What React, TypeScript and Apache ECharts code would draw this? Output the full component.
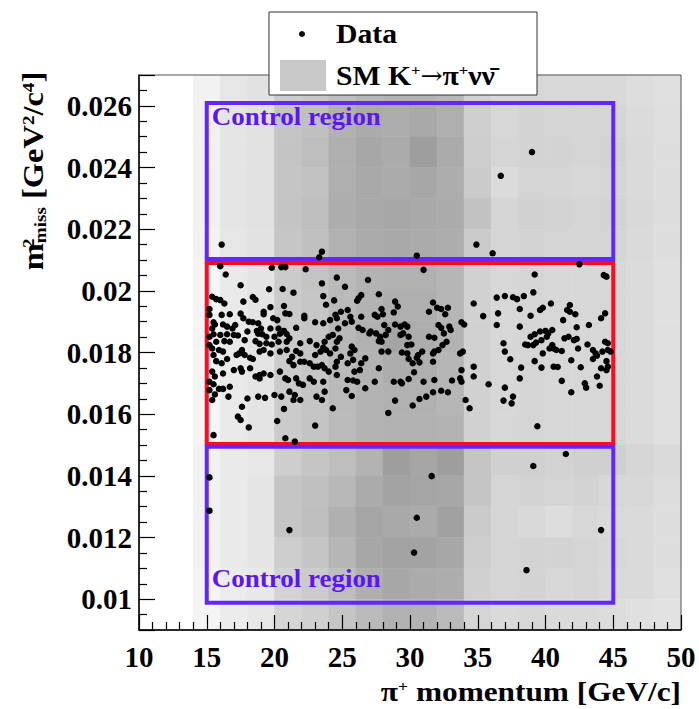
import React, { useEffect, useRef } from 'react';
import * as echarts from 'echarts';

// ---------- SM K+ -> pi+ nu nubar expectation (2D histogram, shade 0..100) ----------
const X_BIN_EDGES = [14, 16, 18, 20, 22, 24, 26, 28, 30, 32, 34, 36, 38, 40, 42, 44, 46, 48];
const X_BIN_WIDTH = 2;
// lower edges of rows, listed from top to bottom
const Y_BIN_EDGES = [0.026, 0.025, 0.024, 0.023, 0.022, 0.021, 0.02, 0.019, 0.018, 0.017, 0.016, 0.015, 0.014, 0.013, 0.012, 0.011, 0.01, 0.009];
const Y_BIN_HEIGHT = 0.001;
const SM_SHADE = [
  [12, 24, 28, 48, 52, 62, 70, 72, 72, 68, 42, 36, 38, 36, 36, 36, 32, 30],
  [13, 25, 29, 55, 60, 74, 80, 78, 82, 76, 46, 38, 42, 40, 40, 40, 34, 31],
  [13, 25, 29, 56, 62, 76, 84, 80, 92, 80, 48, 40, 42, 42, 40, 42, 35, 32],
  [13, 25, 29, 55, 58, 76, 82, 80, 84, 78, 50, 34, 40, 40, 38, 40, 35, 32],
  [13, 25, 29, 56, 62, 78, 82, 84, 82, 80, 58, 40, 44, 42, 40, 42, 36, 32],
  [12, 24, 28, 54, 60, 74, 80, 82, 80, 78, 50, 40, 42, 40, 40, 40, 35, 32],
  [10, 20, 26, 50, 56, 66, 72, 74, 74, 70, 44, 38, 40, 38, 38, 38, 34, 30],
  [10, 20, 26, 50, 54, 66, 72, 76, 76, 70, 44, 38, 40, 38, 38, 38, 34, 30],
  [10, 20, 26, 50, 54, 68, 74, 86, 78, 72, 44, 38, 40, 38, 38, 38, 34, 30],
  [10, 20, 26, 50, 54, 66, 72, 78, 76, 70, 44, 38, 40, 38, 38, 38, 34, 30],
  [10, 20, 26, 50, 56, 66, 72, 74, 74, 70, 44, 38, 40, 38, 38, 38, 34, 30],
  [10, 20, 26, 50, 56, 66, 72, 74, 74, 72, 44, 38, 40, 38, 38, 38, 34, 30],
  [12, 20, 23, 47, 55, 62, 72, 92, 85, 92, 55, 45, 45, 42, 45, 45, 40, 35],
  [12, 20, 25, 55, 60, 68, 80, 88, 86, 84, 55, 40, 42, 40, 42, 38, 38, 32],
  [12, 20, 25, 55, 62, 75, 86, 82, 80, 90, 50, 40, 36, 32, 38, 35, 35, 32],
  [12, 20, 25, 48, 55, 70, 84, 88, 88, 84, 48, 40, 42, 42, 40, 38, 35, 32],
  [10, 18, 22, 42, 50, 62, 76, 84, 80, 78, 45, 40, 42, 38, 40, 36, 35, 30],
  [10, 18, 22, 40, 45, 55, 66, 74, 72, 66, 40, 35, 38, 35, 35, 33, 30, 28],
];

// ---------- Regions (pi+ momentum range, m2miss range) ----------
const REGION_NAMES = ['Control region', 'Signal region', 'Control region'];
const REGION_P_MIN = [15, 15, 15];
const REGION_P_MAX = [45, 45, 45];
const REGION_M2_MIN = [0.02103, 0.01503, 0.00988];
const REGION_M2_MAX = [0.02609, 0.0209, 0.01494];

// ---------- Data points [p (GeV/c), m2miss (GeV^2/c^4)] ----------
const UPPER_CONTROL_POINTS = [
  [16.1, 0.0215], [23.5, 0.02127], [23.3, 0.02109], [30.5, 0.02114], [34.9, 0.0215], [36.1, 0.02122], [36.7, 0.02373], [39.0, 0.0245],
];
const LOWER_CONTROL_POINTS = [
  [15.2, 0.01395], [15.2, 0.01287], [21.1, 0.01224], [31.6, 0.01399], [30.5, 0.01264], [30.3, 0.01151], [39.1, 0.01432], [41.5, 0.01471], [44.1, 0.01224], [38.6, 0.01094],
];
const SIGNAL_POINTS_LOW_P = [
  [16.0, 0.0208], [16.4, 0.02053], [19.8, 0.02075], [20.5, 0.02077], [20.8, 0.02077], [22.3, 0.0207], [17.5, 0.02018], [19.6, 0.02005], [20.6, 0.02006], [21.4, 0.01994], [23.5, 0.02024], [24.6, 0.02043], [23.6, 0.01983], [15.4, 0.01981], [15.7, 0.01973], [16.0, 0.0197], [16.3, 0.01959], [17.7, 0.01965], [18.4, 0.0198], [18.6, 0.01971], [19.2, 0.01932], [19.7, 0.01947], [20.7, 0.01951], [23.8, 0.01955], [24.4, 0.01969], [15.2, 0.01941], [15.2, 0.01922], [16.1, 0.01922], [16.7, 0.01924], [17.5, 0.01926], [17.7, 0.01911], [19.2, 0.01924], [19.9, 0.01911], [20.2, 0.01905], [20.8, 0.01927], [21.1, 0.01925], [22.2, 0.01919], [22.2, 0.01911], [23.0, 0.01898], [23.6, 0.01895], [24.1, 0.01905], [24.5, 0.01922],
  [15.5, 0.01898], [15.6, 0.01891], [15.4, 0.01878], [16.2, 0.01891], [16.5, 0.01884], [16.9, 0.01878], [17.1, 0.01889], [18.1, 0.019], [18.4, 0.01898], [18.8, 0.01895], [19.0, 0.01878], [19.7, 0.01878], [20.3, 0.01878], [20.7, 0.0187], [21.6, 0.0188], [20.4, 0.01861], [20.9, 0.0186], [21.1, 0.01846], [20.0, 0.01851], [19.4, 0.01851], [19.1, 0.01859], [18.7, 0.0187], [18.8, 0.01861], [18.0, 0.01868], [17.3, 0.01855], [17.0, 0.01857], [16.5, 0.01859], [16.0, 0.01857], [15.5, 0.01859], [15.2, 0.01851],
  [15.7, 0.01835], [16.3, 0.01837], [16.7, 0.01835], [17.8, 0.0184], [18.6, 0.01837], [18.9, 0.01828], [19.4, 0.0183], [19.8, 0.01826], [20.3, 0.01835], [20.9, 0.01835], [21.9, 0.0183], [22.6, 0.01837], [23.1, 0.01824], [23.7, 0.01835], [24.0, 0.01851], [24.3, 0.01857], [24.6, 0.01835], [23.6, 0.01816], [23.8, 0.01808], [24.1, 0.01797], [24.5, 0.01813], [23.4, 0.01803], [23.0, 0.01792],
  [15.2, 0.01824], [15.4, 0.01813], [15.9, 0.01808], [16.2, 0.01803], [15.5, 0.01792], [15.7, 0.01772], [16.1, 0.01765], [16.5, 0.01779], [17.6, 0.01808], [17.4, 0.01797], [17.2, 0.01792], [17.8, 0.01792], [18.2, 0.01783], [18.4, 0.01779], [18.9, 0.01803], [19.2, 0.01808], [19.7, 0.01797], [20.4, 0.01803], [20.9, 0.01808], [21.6, 0.01805], [21.9, 0.01797], [21.3, 0.01786], [21.1, 0.01772], [21.4, 0.01759], [21.9, 0.0177], [22.2, 0.0177], [22.6, 0.01765], [22.9, 0.01754], [23.2, 0.01754], [23.5, 0.01759], [23.7, 0.01749], [24.0, 0.01738], [24.5, 0.01754], [24.6, 0.01727],
  [15.4, 0.01738], [15.6, 0.01722], [16.2, 0.01732], [17.0, 0.01743], [17.5, 0.01749], [17.6, 0.01738], [18.2, 0.01749], [18.6, 0.01722], [18.9, 0.01716], [18.9, 0.01727], [19.2, 0.01732], [19.7, 0.01727], [20.4, 0.01738], [20.8, 0.01716], [21.0, 0.01711], [21.6, 0.01716], [21.8, 0.017], [22.1, 0.01695], [22.6, 0.01716], [22.9, 0.01705], [23.6, 0.01705], [15.2, 0.01705], [15.5, 0.01697], [15.9, 0.01682], [16.2, 0.01682], [16.7, 0.01689], [15.2, 0.01678], [15.6, 0.01664], [15.4, 0.01646], [16.6, 0.01657], [18.0, 0.01651], [18.8, 0.01657], [19.3, 0.01653], [20.0, 0.01662], [20.5, 0.01657], [21.1, 0.01673], [21.5, 0.01662], [21.4, 0.01646], [21.9, 0.01646], [23.1, 0.01657], [23.5, 0.01646], [23.7, 0.01673], [24.3, 0.01619], [17.6, 0.01624], [20.7, 0.01617], [17.3, 0.01592], [17.5, 0.01581], [18.1, 0.01557], [20.2, 0.01578], [23.0, 0.01563], [15.5, 0.01532], [20.8, 0.01522], [21.5, 0.01511],
];
const SIGNAL_POINTS_MID_P = [
  [31.0, 0.02068], [25.2, 0.02013], [26.9, 0.02035], [26.4, 0.01986], [26.2, 0.01976], [26.1, 0.01968], [27.7, 0.01989], [28.9, 0.01965], [29.1, 0.01949], [24.9, 0.01932], [25.4, 0.01938], [25.6, 0.01916], [24.6, 0.01911], [25.2, 0.01895], [25.7, 0.019], [26.4, 0.01916], [27.4, 0.01922], [27.6, 0.01916], [27.9, 0.01941], [28.0, 0.01924], [28.8, 0.0193], [31.7, 0.01962], [32.0, 0.01945], [32.3, 0.01941], [32.8, 0.01945], [32.6, 0.01924], [31.4, 0.01932],
  [24.7, 0.01878], [24.8, 0.01846], [26.2, 0.0188], [26.5, 0.01873], [27.0, 0.01862], [27.1, 0.01868], [27.5, 0.01862], [27.8, 0.01851], [27.7, 0.01837], [27.9, 0.01835], [28.2, 0.01857], [28.4, 0.01873], [28.1, 0.01889], [28.9, 0.01891], [29.3, 0.01884], [29.6, 0.01891], [29.8, 0.01884], [29.3, 0.01857], [29.5, 0.01862], [29.9, 0.01851], [29.8, 0.01824], [30.1, 0.01826], [30.9, 0.01803], [30.6, 0.01792], [30.5, 0.01783], [31.4, 0.01851], [31.8, 0.01848], [32.1, 0.01889], [32.3, 0.0188], [32.5, 0.01862], [32.9, 0.01884], [33.0, 0.01873], [33.8, 0.01898], [34.0, 0.01891], [31.8, 0.01803], [32.1, 0.01808], [32.4, 0.01824], [32.7, 0.01835], [33.7, 0.01797], [33.9, 0.01803], [34.7, 0.01959],
  [25.7, 0.01819], [25.9, 0.01808], [25.6, 0.01797], [24.9, 0.01786], [24.6, 0.0177], [25.4, 0.01765], [25.8, 0.01776], [26.4, 0.01765], [26.7, 0.01781], [25.9, 0.01738], [26.3, 0.01743], [27.7, 0.01749], [27.9, 0.01803], [28.4, 0.01803], [29.4, 0.018], [29.8, 0.01797], [29.9, 0.01779], [30.2, 0.01765], [30.7, 0.01768], [31.7, 0.0177], [31.7, 0.01797], [30.3, 0.01736], [29.9, 0.01714], [29.4, 0.017], [29.3, 0.01705], [28.8, 0.01705], [27.4, 0.01705], [25.4, 0.01711], [25.8, 0.01709], [26.1, 0.01705], [25.3, 0.01678], [25.7, 0.01659], [26.7, 0.01684], [28.9, 0.01644], [30.2, 0.01628], [30.7, 0.01649], [31.2, 0.01657], [31.7, 0.01671], [32.3, 0.01676], [32.8, 0.01671], [31.8, 0.01711], [31.0, 0.01705], [33.1, 0.01709], [33.7, 0.01716], [33.8, 0.01705], [34.1, 0.01646], [33.8, 0.01743], [34.4, 0.01619], [34.7, 0.01754], [34.7, 0.01722], [28.4, 0.01604],
];
const SIGNAL_POINTS_HIGH_P = [
  [42.5, 0.02086], [39.2, 0.02053], [44.3, 0.02051], [44.5, 0.02046], [36.4, 0.01978], [37.0, 0.01983], [37.6, 0.01979], [37.9, 0.01973], [38.4, 0.01983], [39.1, 0.01995], [38.1, 0.01941], [39.6, 0.01938], [39.8, 0.01945], [40.4, 0.01959], [41.8, 0.01954], [41.6, 0.01938], [41.8, 0.01932], [42.2, 0.01924], [44.4, 0.01927], [44.1, 0.01911], [35.4, 0.01918], [36.5, 0.01927], [36.4, 0.01889], [38.9, 0.01919], [38.1, 0.01884], [41.3, 0.01905], [42.3, 0.01882], [43.2, 0.01889],
  [38.9, 0.01851], [39.2, 0.01859], [39.6, 0.01868], [40.0, 0.0187], [40.2, 0.01862], [40.5, 0.01873], [40.1, 0.01851], [39.7, 0.0184], [39.1, 0.01824], [38.7, 0.01824], [38.5, 0.01826], [39.3, 0.01832], [40.5, 0.01824], [40.6, 0.01813], [40.3, 0.01813], [40.8, 0.01808], [41.2, 0.01805], [39.8, 0.01797], [41.4, 0.01846], [41.7, 0.01851], [42.1, 0.0184], [42.3, 0.01844], [42.4, 0.01813], [43.1, 0.01826], [43.5, 0.01808], [43.7, 0.01797], [43.8, 0.0179], [44.2, 0.01803], [44.4, 0.01835], [44.6, 0.0183], [44.6, 0.01808], [44.8, 0.01803],
  [36.9, 0.0183], [37.0, 0.01803], [37.4, 0.01778], [39.2, 0.01772], [39.7, 0.01751], [40.6, 0.01754], [40.9, 0.01753], [41.9, 0.01775], [42.6, 0.01752], [43.5, 0.01779], [44.5, 0.01772], [44.6, 0.01754], [44.5, 0.01743], [44.1, 0.01749], [38.2, 0.01751], [38.1, 0.01716], [35.8, 0.01697], [37.0, 0.01686], [41.2, 0.01708], [42.9, 0.017], [43.0, 0.01686], [41.9, 0.01671], [44.0, 0.01692], [43.8, 0.01722], [36.9, 0.01644], [37.5, 0.01635], [37.6, 0.01657], [39.4, 0.01561],
];

const X_TICK_STEP = 5;
const Y_TICK_STEP = 0.002;

const FONT = '"Liberation Serif", "Times New Roman", serif';
const PURPLE = '#6227ff';
const PURPLE_TEXT = '#5b16f2';
const RED = '#ff0a1e';
const REGION_COLORS = [PURPLE, RED, PURPLE];
const TOP_Z = 200;

export default function App() {
  const ref = useRef<HTMLDivElement>(null);

  useEffect(() => {
    if (!ref.current) return;
    const chart = echarts.init(ref.current, null, { renderer: 'svg' });

    const heatData: number[][] = [];
    SM_SHADE.forEach((row, r) => {
      row.forEach((v, c) => {
        heatData.push([X_BIN_EDGES[c], Y_BIN_EDGES[r], v]);
      });
    });

    const regionData = REGION_NAMES.map((_, i) => [REGION_P_MIN[i], REGION_M2_MIN[i], REGION_P_MAX[i], REGION_M2_MAX[i]]);
    const points = [...UPPER_CONTROL_POINTS, ...SIGNAL_POINTS_LOW_P, ...SIGNAL_POINTS_MID_P, ...SIGNAL_POINTS_HIGH_P, ...LOWER_CONTROL_POINTS];

    const bold = (size: number) => ({ fontFamily: FONT, fontWeight: 'bold' as const, fontSize: size });

    const option: any = {
      animation: false,
      backgroundColor: '#ffffff',
      grid: { left: 139, top: 75, width: 542, height: 555, show: true, borderColor: '#555', borderWidth: 1, backgroundColor: 'transparent', z: 10 },
      xAxis: {
        type: 'value', min: 10, max: 50, interval: X_TICK_STEP, z: 10,
        axisLine: { show: true, onZero: false, lineStyle: { color: '#000', width: 1.5 } },
        axisTick: { show: true, inside: true, length: 15, lineStyle: { color: '#000', width: 1.2 } },
        minorTick: { show: true, splitNumber: 5, length: 8, lineStyle: { color: '#000', width: 1.2 } },
        splitLine: { show: false },
        axisLabel: { ...bold(29), color: '#000', margin: 12 },
      },
      yAxis: {
        type: 'value', min: 0.009, max: 0.027, splitNumber: 9, minInterval: Y_TICK_STEP, maxInterval: Y_TICK_STEP, z: 10,
        axisLine: { show: true, onZero: false, lineStyle: { color: '#000', width: 1.5 } },
        axisTick: { show: true, inside: true, length: 16, lineStyle: { color: '#000', width: 1.2 } },
        minorTick: { show: true, splitNumber: 4, length: 8, lineStyle: { color: '#000', width: 1.2 } },
        splitLine: { show: false },
        axisLabel: {
          ...bold(29), color: '#000', margin: 7,
          formatter: (v: number) => {
            const k = v / Y_TICK_STEP;
            return Math.abs(k - Math.round(k)) < 1e-6 ? String(+v.toFixed(3)) : '';
          },
        },
      },
      series: [
        {
          type: 'custom', name: 'SM K⁺→π⁺νν̄', z: 1, silent: true,
          encode: { x: 0, y: 1 },
          data: heatData,
          renderItem: (_params: any, api: any) => {
            const x0 = api.value(0), y0 = api.value(1), v = api.value(2);
            const a = api.coord([x0, y0 + Y_BIN_HEIGHT]);
            const b = api.coord([x0 + X_BIN_WIDTH, y0]);
            const g = Math.round(255 - 1.05 * v);
            const col = `rgb(${g},${g},${g})`;
            return {
              type: 'rect',
              shape: { x: a[0], y: a[1], width: b[0] - a[0], height: b[1] - a[1] },
              style: { fill: col, stroke: col, lineWidth: 0.6 },
            };
          },
        },
        {
          type: 'custom', name: 'Regions', z: 3, silent: true,
          encode: { x: [0, 2], y: [1, 3] },
          data: regionData,
          renderItem: (params: any, api: any) => {
            const i = params.dataIndex;
            const tl = api.coord([api.value(0), api.value(3)]);
            const br = api.coord([api.value(2), api.value(1)]);
            const children: any[] = [
              {
                type: 'rect',
                shape: { x: tl[0], y: tl[1], width: br[0] - tl[0], height: br[1] - tl[1] },
                style: { fill: 'none', stroke: REGION_COLORS[i], lineWidth: 4 },
              },
            ];
            if (REGION_NAMES[i] === 'Control region') {
              const top = i === 0;
              children.push({
                type: 'text',
                x: tl[0] + 5,
                y: top ? tl[1] + 14 : br[1] - 24,
                scaleX: 1.08,
                style: {
                  text: REGION_NAMES[i], fill: PURPLE_TEXT, ...bold(25),
                  align: 'left', verticalAlign: 'middle', textAlign: 'left', textVerticalAlign: 'middle',
                },
              });
            }
            return { type: 'group', children };
          },
        },
        {
          type: 'scatter', name: 'Data', z: 5, symbol: 'circle', symbolSize: 6.5,
          itemStyle: { color: '#000', opacity: 1 },
          data: points,
        },
      ],
      graphic: [
        { type: 'rect', z: TOP_Z, shape: { x: 269, y: 12, width: 268, height: 83 }, style: { fill: '#fff', stroke: '#333', lineWidth: 1 } },
        { type: 'circle', z: TOP_Z + 1, shape: { cx: 302, cy: 34, r: 3 }, style: { fill: '#000' } },
        {
          type: 'text', z: TOP_Z + 1, x: 336, y: 34, scaleX: 1.1,
          style: { text: 'Data', fill: '#000', ...bold(27), align: 'left', verticalAlign: 'middle', textAlign: 'left', textVerticalAlign: 'middle' },
        },
        { type: 'rect', z: TOP_Z + 1, shape: { x: 280, y: 60, width: 46, height: 31 }, style: { fill: '#c8c8c8' } },
        {
          type: 'text', z: TOP_Z + 1, x: 336, y: 76, scaleX: 1.1,
          style: {
            text: '{b|SM K}{s|+}{a|→}{b|π}{s|+}{b|νν̄}', fill: '#000',
            align: 'left', verticalAlign: 'middle', textAlign: 'left', textVerticalAlign: 'middle',
            rich: {
              b: { ...bold(27), fill: '#000', color: '#000' },
              s: { ...bold(15), fill: '#000', color: '#000', verticalAlign: 'top' },
              a: { fontFamily: '"DejaVu Serif", serif', fontWeight: 'normal', fontSize: 24, fill: '#000', color: '#000' },
            },
          },
        },
        {
          type: 'text', x: 681, y: 692, scaleX: 1.16, z: TOP_Z,
          style: {
            text: '{b|π}{s|+}{b| momentum [GeV/c]}', fill: '#000',
            align: 'right', verticalAlign: 'middle', textAlign: 'right', textVerticalAlign: 'middle',
            rich: {
              b: { ...bold(27), fill: '#000', color: '#000' },
              s: { ...bold(15), fill: '#000', color: '#000', verticalAlign: 'top' },
            },
          },
        },
        {
          type: 'text', x: 34, y: 171, rotation: Math.PI / 2, scaleX: 1.12, z: TOP_Z,
          style: {
            text: '{b|m}{s0|2}{u|miss}{b| [GeV}{s|2}{b|/c}{s|4}{b|]}', fill: '#000',
            align: 'center', verticalAlign: 'middle', textAlign: 'center', textVerticalAlign: 'middle',
            rich: {
              b: { ...bold(29), fill: '#000', color: '#000' },
              s: { ...bold(17), fill: '#000', color: '#000', verticalAlign: 'top' },
              s0: { ...bold(17), fill: '#000', color: '#000', verticalAlign: 'top', width: 0, align: 'left' },
              u: { ...bold(17), fill: '#000', color: '#000', verticalAlign: 'bottom' },
            },
          },
        },
      ],
    };

    chart.setOption(option);
    return () => chart.dispose();
  }, []);

  return (
    <div
      ref={ref}
      style={{ position: 'absolute', left: 0, top: 0, width: 699, height: 709, background: '#fff' }}
    />
  );
}
